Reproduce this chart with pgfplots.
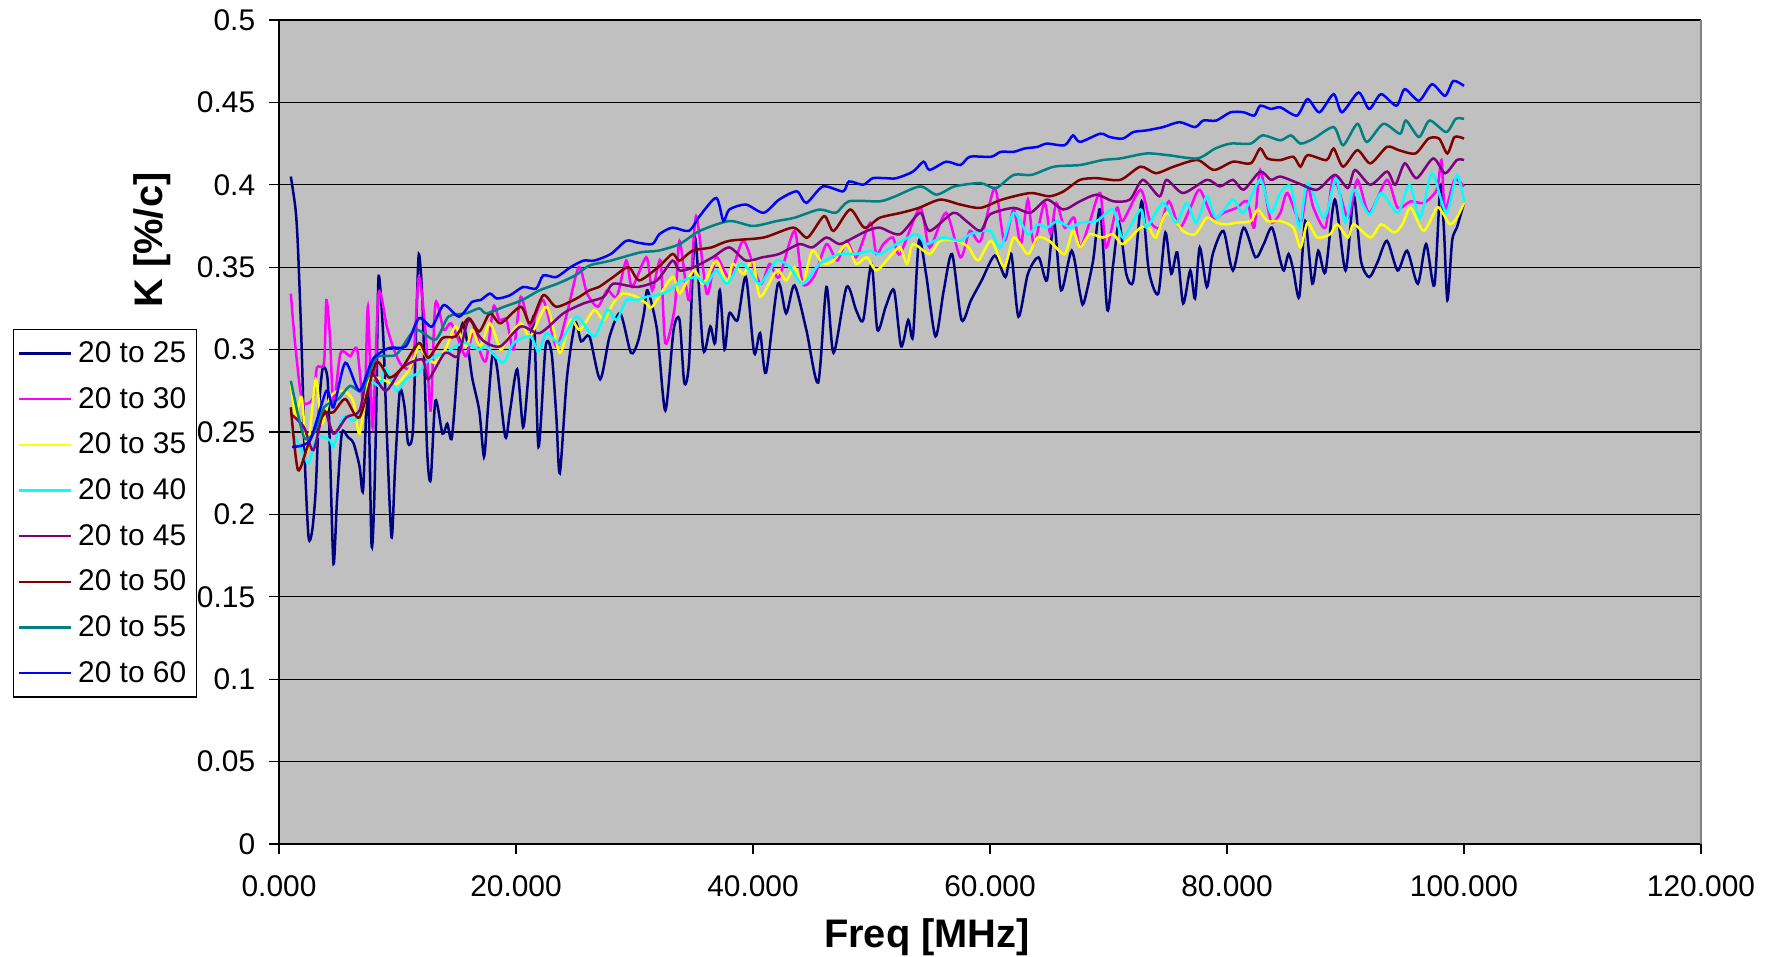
\documentclass[border=0pt]{standalone}
\usepackage{pgfplots}
\pgfplotsset{compat=1.18}
\usepackage{fontspec}
\setmainfont{Liberation Sans}

\definecolor{plotgray}{HTML}{C0C0C0}
\definecolor{framegray}{HTML}{808080}
\definecolor{cNavy}{HTML}{000080}
\definecolor{cMagenta}{HTML}{FF00FF}
\definecolor{cYellow}{HTML}{FFFF00}
\definecolor{cCyan}{HTML}{00FFFF}
\definecolor{cPurple}{HTML}{800080}
\definecolor{cMaroon}{HTML}{800000}
\definecolor{cTeal}{HTML}{008080}
\definecolor{cBlue}{HTML}{0000FF}

\begin{document}
\begin{tikzpicture}
% page frame around the chart
\useasboundingbox (-139.5bp,-56.5bp) rectangle (747.5bp,422bp);
\begin{axis}[
  scale only axis,
  width=711bp, height=412bp,
  at={(0,0)}, anchor=south west,
  xmin=0, xmax=120, ymin=0, ymax=0.5,
  xtick={0,20,40,60,80,100,120},
  ytick={0,0.05,0.1,0.15,0.2,0.25,0.3,0.35,0.4,0.45,0.5},
  xticklabel={\pgfmathprintnumber[fixed,fixed zerofill,precision=3,1000 sep={}]{\tick}},
  yticklabel={\pgfmathprintnumber[fixed,precision=2]{\tick}},
  /pgf/number format/assume math mode=true,
  tick label style={font=\fontsize{15}{18}\selectfont},
  xticklabel style={yshift=-7.3bp},
  yticklabel style={xshift=-3.4bp},
  tick align=outside,
  major tick length=5bp,
  tick style={black, line width=0.6bp},
  axis x line*=bottom,
  axis y line*=left,
  axis line style={-, black, line width=0.8bp},
  axis background/.style={fill=plotgray},
  ymajorgrids,
  major grid style={black, line width=0.6bp},
  xlabel={Freq [MHz]},
  ylabel={K [\%/c]},
  label style={font=\fontsize{20}{24}\selectfont\bfseries},
  xlabel style={at={(axis description cs:0.4557,-0.113)}, anchor=center},
  ylabel style={at={(axis description cs:-0.0892,0.733)}, anchor=center, rotate=0},
  legend cell align=left,
  legend style={
    at={(axis description cs:-0.187,0.625)}, anchor=north west,
    draw=black, fill=white, line width=0.6bp,
    font=\fontsize{15}{18}\selectfont,
    row sep=8.9bp, inner xsep=2bp, inner ysep=5bp,
    nodes={inner xsep=3bp, inner ysep=1bp},
  },
  legend image code/.code={
    \path (-3.4bp,0bp) -- (22.6bp,0bp);
    \draw[#1, line width=1.2bp] (0bp,0bp) -- (22.5bp,0bp);
  },
  every axis plot/.append style={line width=1.25bp, mark=none, smooth, tension=0.45},
  after end axis/.code={
    \draw[framegray, line width=0.8bp] (rel axis cs:1,0) -- (rel axis cs:1,1);
  },
]

% 20 to 25
\addplot[cNavy] coordinates {
(1.0,0.405)(1.4,0.385)(1.6,0.362)(1.9,0.304)(2.2,0.229)(2.5,0.186)(2.8,0.190)(3.1,0.215)(3.4,0.267)(3.7,0.289)(4.1,0.282)(4.3,0.239)(4.6,0.170)(4.9,0.209)(5.3,0.249)(5.8,0.247)(6.3,0.243)(6.8,0.229)(7.1,0.215)(7.5,0.280)(7.8,0.183)(8.0,0.200)(8.2,0.259)(8.4,0.344)(8.8,0.308)(9.1,0.249)(9.5,0.186)(9.8,0.229)(10.2,0.275)(10.6,0.265)(10.9,0.243)(11.3,0.251)(11.6,0.320)(11.8,0.358)(12.1,0.330)(12.5,0.239)(12.8,0.221)(13.2,0.269)(13.8,0.249)(14.2,0.255)(14.6,0.247)(15.2,0.302)(15.5,0.316)(15.9,0.304)(16.3,0.283)(16.9,0.263)(17.3,0.235)(17.6,0.261)(18.0,0.296)(18.4,0.289)(19.1,0.247)(19.5,0.263)(20.1,0.288)(20.6,0.253)(21.0,0.280)(21.5,0.320)(21.9,0.241)(22.5,0.302)(23.0,0.298)(23.4,0.260)(23.7,0.225)(24.3,0.283)(25.0,0.316)(25.5,0.305)(26.2,0.308)(27.1,0.282)(27.9,0.308)(28.8,0.322)(29.7,0.298)(30.3,0.305)(30.8,0.322)(31.1,0.336)(31.9,0.312)(32.6,0.263)(33.3,0.312)(33.8,0.318)(34.2,0.280)(34.6,0.292)(35.1,0.368)(35.8,0.300)(36.4,0.314)(36.8,0.304)(37.2,0.336)(37.6,0.300)(38.0,0.322)(38.7,0.318)(39.4,0.344)(40.1,0.298)(40.6,0.310)(41.1,0.286)(42.1,0.340)(42.8,0.322)(43.5,0.339)(44.5,0.312)(45.5,0.280)(46.2,0.338)(46.8,0.298)(47.9,0.338)(48.7,0.324)(49.3,0.318)(50.0,0.352)(50.5,0.312)(51.2,0.326)(51.9,0.336)(52.5,0.302)(53.1,0.318)(53.5,0.308)(54.0,0.366)(54.6,0.346)(55.4,0.308)(56.1,0.336)(56.8,0.358)(57.6,0.318)(58.4,0.330)(59.3,0.342)(60.4,0.357)(61.3,0.344)(61.8,0.358)(62.4,0.320)(63.2,0.346)(64.1,0.356)(64.8,0.342)(65.4,0.378)(66.0,0.336)(66.9,0.360)(67.6,0.334)(67.9,0.328)(68.7,0.354)(69.3,0.385)(69.9,0.324)(70.4,0.352)(70.9,0.377)(71.5,0.346)(72.1,0.342)(72.8,0.390)(73.4,0.348)(74.2,0.334)(74.8,0.371)(75.3,0.346)(75.8,0.359)(76.3,0.328)(76.9,0.348)(77.3,0.331)(77.7,0.362)(78.3,0.338)(78.8,0.358)(79.7,0.372)(80.5,0.348)(81.4,0.374)(82.4,0.356)(83.1,0.364)(83.8,0.374)(84.5,0.354)(84.8,0.348)(85.2,0.358)(85.6,0.348)(86.1,0.332)(86.6,0.378)(87.2,0.340)(87.7,0.360)(88.3,0.347)(89.1,0.391)(90.0,0.348)(90.7,0.393)(91.3,0.354)(92.0,0.344)(92.7,0.353)(93.5,0.366)(94.4,0.348)(95.2,0.360)(96.1,0.340)(96.8,0.364)(97.5,0.339)(98.0,0.399)(98.3,0.374)(98.6,0.330)(99.0,0.366)(99.4,0.374)(100.0,0.389)
};
\addlegendentry{20 to 25}

% 20 to 30
\addplot[cMagenta] coordinates {
(1.0,0.334)(1.3,0.308)(1.8,0.275)(2.2,0.267)(2.9,0.271)(3.2,0.289)(3.8,0.292)(4.0,0.330)(4.3,0.308)(4.6,0.267)(5.2,0.298)(6.0,0.296)(6.6,0.300)(7.2,0.263)(7.5,0.326)(7.9,0.253)(8.4,0.334)(9.1,0.314)(9.7,0.300)(10.4,0.290)(11.3,0.292)(11.8,0.344)(12.4,0.308)(12.8,0.263)(13.2,0.328)(13.9,0.312)(14.5,0.316)(15.2,0.305)(15.8,0.296)(16.5,0.314)(17.0,0.298)(17.5,0.294)(18.1,0.326)(18.6,0.318)(19.2,0.318)(19.8,0.300)(20.4,0.332)(21.2,0.314)(22.3,0.330)(23.4,0.302)(24.3,0.322)(25.3,0.350)(26.0,0.334)(26.9,0.326)(27.7,0.336)(28.5,0.332)(29.3,0.354)(29.8,0.338)(31.0,0.356)(31.5,0.336)(32.2,0.354)(32.6,0.304)(33.4,0.326)(33.8,0.366)(34.6,0.330)(35.2,0.381)(36.1,0.334)(36.9,0.356)(38.0,0.344)(39.2,0.366)(40.6,0.340)(41.4,0.352)(42.2,0.344)(43.5,0.372)(44.2,0.340)(45.2,0.345)(46.2,0.364)(47.1,0.354)(47.9,0.366)(48.7,0.356)(49.9,0.377)(50.4,0.358)(51.0,0.364)(51.8,0.368)(52.4,0.358)(54.1,0.386)(54.9,0.362)(56.3,0.383)(57.5,0.356)(58.3,0.372)(59.2,0.366)(60.4,0.398)(61.2,0.366)(62.0,0.385)(62.6,0.364)(63.2,0.391)(63.7,0.364)(64.6,0.389)(65.1,0.370)(65.6,0.389)(66.3,0.374)(67.1,0.380)(67.6,0.362)(68.4,0.377)(69.3,0.395)(69.8,0.362)(70.7,0.386)(71.2,0.378)(72.7,0.397)(73.5,0.378)(74.3,0.374)(75.1,0.390)(76.0,0.374)(76.9,0.386)(77.7,0.397)(78.8,0.380)(79.7,0.383)(80.8,0.386)(81.7,0.390)(82.3,0.374)(82.8,0.409)(83.7,0.378)(84.5,0.383)(85.1,0.395)(86.2,0.377)(86.8,0.399)(87.3,0.386)(88.3,0.374)(89.0,0.405)(90.2,0.380)(91.0,0.403)(92.0,0.383)(93.5,0.403)(94.4,0.386)(95.5,0.390)(96.6,0.389)(97.7,0.397)(98.1,0.415)(98.4,0.385)(99.2,0.403)(100.0,0.399)
};
\addlegendentry{20 to 30}

% 20 to 35
\addplot[cYellow] coordinates {
(1.0,0.280)(1.4,0.259)(1.9,0.271)(2.4,0.239)(3.1,0.282)(3.6,0.255)(4.3,0.271)(5.0,0.275)(5.7,0.274)(6.3,0.268)(6.8,0.249)(7.5,0.280)(8.2,0.283)(9.0,0.281)(9.9,0.279)(11.0,0.288)(11.8,0.302)(12.4,0.296)(13.2,0.292)(14.1,0.301)(14.9,0.314)(15.8,0.302)(16.3,0.312)(17.0,0.302)(17.8,0.316)(18.7,0.300)(19.2,0.306)(20.4,0.316)(21.2,0.308)(22.6,0.326)(23.7,0.298)(24.6,0.318)(25.4,0.312)(26.6,0.324)(27.4,0.318)(28.2,0.328)(29.0,0.334)(30.2,0.332)(31.0,0.328)(31.5,0.326)(33.2,0.344)(33.8,0.334)(35.0,0.348)(35.8,0.340)(36.9,0.354)(37.8,0.340)(38.3,0.352)(39.2,0.346)(40.0,0.354)(40.6,0.332)(42.0,0.348)(42.8,0.342)(43.5,0.350)(44.2,0.340)(45.0,0.360)(45.9,0.352)(46.8,0.354)(47.9,0.364)(48.7,0.352)(49.6,0.356)(50.4,0.348)(51.5,0.356)(52.4,0.362)(53.0,0.352)(53.5,0.364)(54.9,0.358)(55.8,0.366)(57.2,0.366)(58.2,0.362)(59.0,0.354)(60.1,0.366)(61.2,0.350)(62.0,0.368)(63.2,0.358)(64.0,0.368)(65.0,0.366)(66.3,0.358)(67.0,0.372)(67.6,0.362)(68.4,0.370)(69.5,0.368)(70.4,0.370)(71.2,0.364)(72.7,0.374)(73.4,0.374)(74.0,0.368)(74.9,0.383)(76.3,0.372)(77.3,0.370)(78.3,0.380)(79.1,0.377)(80.0,0.376)(80.8,0.377)(82.0,0.378)(82.6,0.385)(83.4,0.378)(84.5,0.378)(85.6,0.374)(86.2,0.362)(86.8,0.377)(87.6,0.368)(88.7,0.370)(89.3,0.376)(90.2,0.368)(90.7,0.376)(92.1,0.368)(93.0,0.376)(94.1,0.371)(94.8,0.376)(95.5,0.386)(96.6,0.372)(97.7,0.386)(98.2,0.383)(98.8,0.376)(99.4,0.380)(100.0,0.389)
};
\addlegendentry{20 to 35}

% 20 to 40
\addplot[cCyan] coordinates {
(1.0,0.251)(1.8,0.241)(2.5,0.231)(3.2,0.247)(4.3,0.245)(4.6,0.241)(5.4,0.259)(6.3,0.257)(7.0,0.263)(7.7,0.280)(8.5,0.278)(9.0,0.289)(9.9,0.275)(10.7,0.282)(11.8,0.286)(12.4,0.292)(13.2,0.296)(14.1,0.298)(14.9,0.302)(15.8,0.304)(16.9,0.300)(17.5,0.302)(18.9,0.292)(19.8,0.304)(21.2,0.308)(21.9,0.299)(22.6,0.310)(23.7,0.304)(25.1,0.320)(26.6,0.308)(27.7,0.324)(28.5,0.318)(29.3,0.330)(30.2,0.330)(31.0,0.332)(31.9,0.333)(33.0,0.336)(33.8,0.341)(35.2,0.344)(36.1,0.340)(36.9,0.348)(37.8,0.340)(38.9,0.352)(39.7,0.348)(40.6,0.340)(42.0,0.354)(43.1,0.350)(44.2,0.340)(45.6,0.352)(47.3,0.358)(48.7,0.358)(49.9,0.360)(50.7,0.358)(52.1,0.364)(53.8,0.370)(54.6,0.364)(56.0,0.368)(57.5,0.366)(58.3,0.370)(60.0,0.372)(60.9,0.362)(62.0,0.383)(63.2,0.370)(64.0,0.376)(64.8,0.374)(65.7,0.378)(66.8,0.374)(67.6,0.377)(69.0,0.378)(70.4,0.385)(71.2,0.368)(72.7,0.385)(73.2,0.374)(74.6,0.389)(75.7,0.377)(76.6,0.389)(77.4,0.377)(78.3,0.393)(79.1,0.380)(80.5,0.391)(81.4,0.383)(82.8,0.403)(83.7,0.383)(84.5,0.395)(85.4,0.399)(86.1,0.374)(86.8,0.401)(88.2,0.380)(89.2,0.404)(90.0,0.377)(90.7,0.397)(92.0,0.382)(93.0,0.395)(94.4,0.383)(95.4,0.400)(96.3,0.380)(97.3,0.407)(98.5,0.383)(99.4,0.406)(100.0,0.390)
};
\addlegendentry{20 to 40}

% 20 to 45
\addplot[cPurple] coordinates {
(1.0,0.261)(2.1,0.253)(2.9,0.239)(3.8,0.263)(4.6,0.249)(5.7,0.259)(6.8,0.263)(7.6,0.287)(9.0,0.275)(10.4,0.289)(12.1,0.294)(12.6,0.282)(14.0,0.298)(15.1,0.296)(16.0,0.318)(16.9,0.308)(17.5,0.304)(18.7,0.302)(20.4,0.314)(22.0,0.310)(24.0,0.322)(25.7,0.328)(27.4,0.332)(28.2,0.340)(30.2,0.338)(31.9,0.342)(33.2,0.354)(33.8,0.348)(35.0,0.350)(36.6,0.356)(38.0,0.362)(39.4,0.354)(40.8,0.356)(42.2,0.358)(43.9,0.364)(45.0,0.362)(46.2,0.368)(47.3,0.364)(48.5,0.368)(49.6,0.372)(50.7,0.374)(52.4,0.370)(54.1,0.383)(54.9,0.372)(56.9,0.383)(58.0,0.378)(59.2,0.372)(60.0,0.382)(62.0,0.386)(63.4,0.383)(64.8,0.391)(66.2,0.385)(67.6,0.390)(69.0,0.394)(70.4,0.390)(71.8,0.391)(72.9,0.403)(74.3,0.393)(74.9,0.403)(76.3,0.395)(78.3,0.403)(79.4,0.399)(80.5,0.403)(81.4,0.397)(82.8,0.408)(83.7,0.403)(84.5,0.405)(86.0,0.401)(87.6,0.397)(89.1,0.406)(90.2,0.398)(90.8,0.409)(92.1,0.400)(93.5,0.408)(94.2,0.400)(95.0,0.413)(96.0,0.404)(97.4,0.416)(98.4,0.407)(99.4,0.415)(100.0,0.415)
};
\addlegendentry{20 to 45}

% 20 to 50
\addplot[cMaroon] coordinates {
(1.0,0.265)(1.6,0.227)(2.5,0.243)(3.8,0.261)(4.6,0.262)(5.6,0.270)(6.8,0.259)(8.2,0.292)(9.3,0.283)(10.4,0.289)(11.8,0.304)(12.6,0.295)(13.8,0.307)(14.9,0.308)(16.0,0.319)(16.9,0.311)(17.8,0.322)(18.7,0.316)(20.4,0.326)(21.2,0.316)(22.3,0.333)(23.4,0.326)(25.1,0.331)(26.2,0.336)(27.0,0.338)(28.2,0.344)(29.5,0.350)(30.4,0.342)(32.0,0.350)(33.2,0.358)(33.8,0.354)(34.9,0.360)(36.5,0.362)(38.0,0.366)(40.9,0.368)(43.4,0.374)(44.6,0.368)(46.0,0.381)(46.8,0.372)(48.2,0.385)(49.4,0.374)(50.7,0.380)(52.5,0.383)(54.0,0.386)(55.8,0.391)(57.5,0.388)(59.2,0.386)(61.0,0.391)(63.4,0.395)(65.0,0.393)(66.2,0.396)(67.6,0.403)(69.0,0.404)(71.0,0.403)(72.7,0.411)(74.0,0.407)(75.5,0.411)(77.5,0.415)(78.9,0.409)(80.5,0.414)(82.0,0.413)(82.8,0.422)(83.4,0.416)(84.5,0.415)(85.6,0.417)(86.2,0.411)(86.8,0.418)(88.4,0.415)(89.0,0.422)(89.8,0.411)(91.0,0.421)(92.1,0.413)(93.5,0.423)(94.5,0.421)(95.9,0.419)(97.0,0.428)(97.9,0.428)(98.6,0.419)(99.2,0.429)(100.0,0.428)
};
\addlegendentry{20 to 50}

% 20 to 55
\addplot[cTeal] coordinates {
(1.0,0.281)(2.1,0.247)(3.0,0.250)(3.8,0.265)(5.0,0.270)(6.0,0.278)(7.0,0.275)(8.2,0.295)(9.9,0.297)(11.5,0.312)(13.2,0.306)(14.3,0.320)(15.8,0.322)(16.9,0.325)(17.5,0.322)(19.0,0.326)(20.5,0.330)(22.0,0.336)(23.5,0.340)(25.0,0.345)(26.2,0.351)(28.0,0.354)(30.5,0.359)(32.0,0.360)(33.8,0.364)(35.5,0.372)(38.0,0.378)(40.0,0.375)(42.0,0.378)(43.5,0.380)(45.6,0.385)(47.0,0.383)(48.1,0.390)(50.7,0.390)(52.0,0.393)(54.1,0.399)(55.5,0.394)(57.0,0.399)(59.2,0.401)(60.5,0.398)(62.0,0.406)(63.5,0.406)(65.4,0.411)(67.6,0.412)(69.5,0.415)(71.0,0.416)(73.2,0.419)(75.0,0.418)(77.5,0.416)(79.0,0.422)(80.3,0.425)(82.0,0.425)(83.0,0.430)(84.5,0.427)(85.4,0.430)(86.2,0.425)(87.3,0.428)(89.0,0.435)(89.8,0.424)(91.0,0.437)(91.8,0.426)(93.2,0.437)(94.6,0.431)(95.1,0.439)(96.2,0.429)(97.1,0.439)(98.5,0.432)(99.3,0.440)(100.0,0.440)
};
\addlegendentry{20 to 55}

% 20 to 60
\addplot[cBlue] coordinates {
(1.1,0.241)(2.6,0.245)(4.0,0.275)(4.6,0.265)(5.6,0.292)(6.8,0.275)(7.9,0.294)(9.3,0.301)(10.7,0.302)(11.8,0.319)(12.9,0.314)(13.9,0.327)(15.2,0.320)(16.3,0.329)(17.0,0.330)(17.8,0.334)(18.4,0.331)(19.5,0.333)(20.6,0.338)(21.7,0.337)(22.3,0.345)(23.4,0.344)(24.6,0.350)(25.7,0.354)(26.6,0.354)(28.0,0.358)(29.3,0.366)(30.2,0.365)(31.5,0.364)(32.1,0.370)(33.2,0.374)(34.6,0.372)(35.5,0.381)(36.9,0.392)(37.5,0.378)(38.0,0.385)(39.4,0.388)(40.9,0.383)(42.2,0.391)(43.7,0.396)(44.5,0.389)(45.9,0.399)(47.6,0.396)(48.1,0.402)(49.3,0.400)(50.1,0.404)(51.2,0.404)(52.1,0.404)(53.5,0.408)(54.4,0.414)(54.9,0.409)(56.3,0.414)(57.5,0.412)(58.3,0.417)(60.1,0.417)(60.9,0.420)(62.0,0.420)(62.9,0.422)(64.0,0.423)(64.8,0.425)(66.3,0.424)(67.0,0.430)(67.6,0.426)(69.3,0.431)(70.1,0.429)(71.2,0.428)(72.1,0.432)(73.2,0.433)(74.6,0.435)(76.0,0.438)(77.3,0.435)(78.0,0.439)(79.1,0.439)(80.3,0.444)(81.4,0.444)(82.3,0.442)(82.8,0.448)(83.7,0.446)(84.5,0.447)(85.9,0.442)(86.8,0.452)(87.8,0.444)(89.0,0.455)(89.7,0.444)(91.1,0.456)(92.0,0.446)(93.0,0.455)(94.3,0.448)(95.0,0.458)(96.2,0.451)(97.3,0.461)(98.4,0.454)(99.1,0.463)(100.0,0.460)
};
\addlegendentry{20 to 60}

\end{axis}
\end{tikzpicture}
\end{document}
